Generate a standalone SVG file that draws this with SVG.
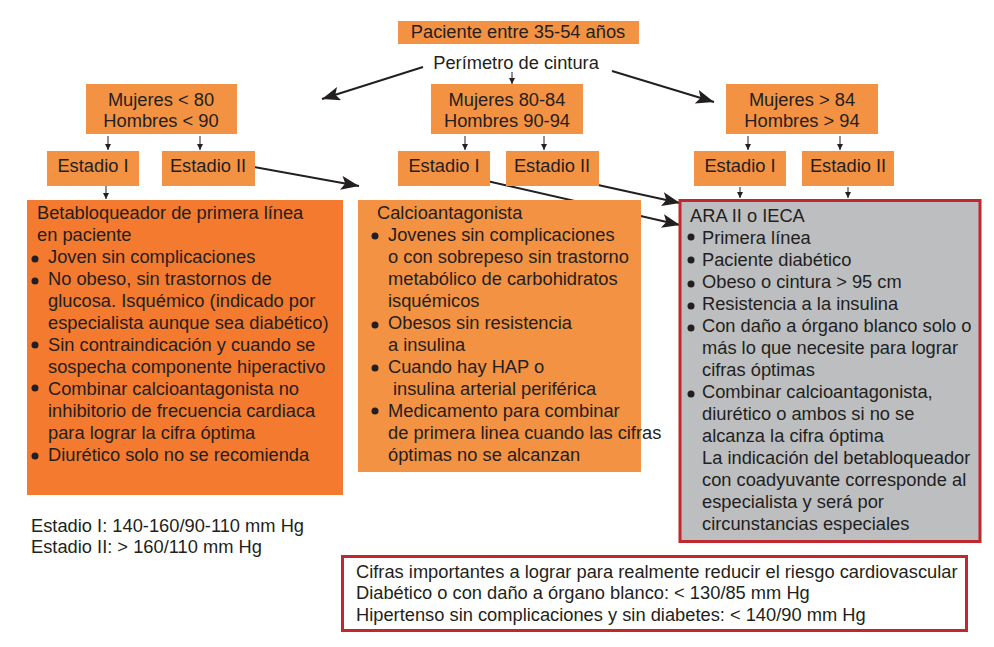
<svg xmlns="http://www.w3.org/2000/svg" width="994" height="647" viewBox="0 0 994 647">
<defs>
<style>
text{font-family:"Liberation Sans",Arial,sans-serif;font-size:18.3px;fill:#231f20}
.c{text-anchor:middle}
.box{fill:#f39242}
.big{fill:#f37a2e}
.grey{fill:#bcbec0;stroke:#c1272d;stroke-width:3}
.red{fill:#ffffff;stroke:#c1272d;stroke-width:3}
.ln{stroke:#231f20;stroke-width:2;fill:none;marker-end:url(#ah)}
.sl{stroke:#231f20;stroke-width:1;fill:none;marker-end:url(#as)}
.b{fill:#231f20}
</style>
<marker id="ah" markerUnits="userSpaceOnUse" markerWidth="20" markerHeight="16" refX="18" refY="7" orient="auto">
<path d="M0,0 L18,7 L0,14 L4,7 Z" fill="#231f20"/>
</marker>
<marker id="as" markerUnits="userSpaceOnUse" markerWidth="8" markerHeight="8" refX="6" refY="3" orient="auto">
<path d="M0,0 L6,3 L0,6 Z" fill="#231f20"/>
</marker>
</defs>
<rect width="994" height="647" fill="#ffffff"/>

<g id="connectors">
<line class="ln" x1="423" y1="67" x2="322" y2="99"/>
<line class="ln" x1="612" y1="71" x2="714" y2="102"/>
<line class="ln" x1="254" y1="167" x2="359" y2="186"/>
<line class="ln" x1="598" y1="185" x2="680" y2="203"/>
<line class="ln" x1="487" y1="181" x2="680" y2="225"/>
<line class="sl" x1="512" y1="72" x2="512" y2="84"/>
<line class="sl" x1="108" y1="136" x2="108" y2="150"/>
<line class="sl" x1="200" y1="136" x2="200" y2="150"/>
<line class="sl" x1="465" y1="136" x2="465" y2="150"/>
<line class="sl" x1="544" y1="136" x2="544" y2="150"/>
<line class="sl" x1="748" y1="136" x2="748" y2="150"/>
<line class="sl" x1="840" y1="136" x2="840" y2="150"/>
<line class="sl" x1="106" y1="186" x2="106" y2="199"/>
<line class="sl" x1="740" y1="187" x2="740" y2="198"/>
<line class="sl" x1="848" y1="187" x2="848" y2="198"/>
</g>

<g id="paciente">
<rect class="box" x="398" y="21" width="241" height="23"/>
<text class="c" x="518" y="38">Paciente entre 35-54 años</text>
</g>
<g id="perimetro">
<text class="c" x="516" y="69">Perímetro de cintura</text>
</g>

<g id="grupo-bajo">
<rect class="box" x="86" y="84" width="151" height="50"/>
<text class="c" x="161" y="106">Mujeres &lt; 80</text>
<text class="c" x="161" y="127">Hombres &lt; 90</text>
</g>
<g id="grupo-medio">
<rect class="box" x="431" y="84" width="152" height="50"/>
<text class="c" x="507" y="106">Mujeres 80-84</text>
<text class="c" x="507" y="127">Hombres 90-94</text>
</g>
<g id="grupo-alto">
<rect class="box" x="726" y="84" width="152" height="50"/>
<text class="c" x="802" y="106">Mujeres &gt; 84</text>
<text class="c" x="802" y="127">Hombres &gt; 94</text>
</g>

<g id="estadio1-bajo"><rect class="box" x="47" y="151" width="92" height="35"/><text class="c" x="93" y="172">Estadio I</text></g>
<g id="estadio2-bajo"><rect class="box" x="162" y="151" width="93" height="35"/><text class="c" x="208" y="172">Estadio II</text></g>
<g id="estadio1-medio"><rect class="box" x="398" y="151" width="92" height="35"/><text class="c" x="444" y="172">Estadio I</text></g>
<g id="estadio2-medio"><rect class="box" x="506" y="151" width="93" height="35"/><text class="c" x="552" y="172">Estadio II</text></g>
<g id="estadio1-alto"><rect class="box" x="694" y="151" width="92" height="35"/><text class="c" x="740" y="172">Estadio I</text></g>
<g id="estadio2-alto"><rect class="box" x="802" y="151" width="92" height="35"/><text class="c" x="848" y="172">Estadio II</text></g>

<g id="betabloqueador">
<rect class="big" x="27" y="200" width="316" height="295"/>
<text x="37" y="219">Betabloqueador de primera línea</text>
<text x="37" y="241">en paciente</text>
<circle class="b" cx="35" cy="259" r="3.5"/><text x="48" y="263">Joven sin complicaciones</text>
<circle class="b" cx="35" cy="281" r="3.5"/><text x="48" y="285">No obeso, sin trastornos de</text>
<text x="48" y="307">glucosa. Isquémico (indicado por</text>
<text x="48" y="329">especialista aunque sea diabético)</text>
<circle class="b" cx="35" cy="345" r="3.5"/><text x="48" y="351">Sin contraindicación y cuando se</text>
<text x="48" y="373">sospecha componente hiperactivo</text>
<circle class="b" cx="35" cy="388" r="3.5"/><text x="48" y="395">Combinar calcioantagonista no</text>
<text x="48" y="417">inhibitorio de frecuencia cardiaca</text>
<text x="48" y="439">para lograr la cifra óptima</text>
<circle class="b" cx="35" cy="456" r="3.5"/><text x="48" y="461">Diurético solo no se recomienda</text>
</g>

<g id="calcioantagonista">
<rect class="box" x="358" y="200" width="283" height="272"/>
<text x="377" y="219">Calcioantagonista</text>
<circle class="b" cx="375" cy="236" r="3.5"/><text x="388" y="241">Jovenes sin complicaciones</text>
<text x="388" y="263">o con sobrepeso sin trastorno</text>
<text x="388" y="285">metabólico de carbohidratos</text>
<text x="388" y="307">isquémicos</text>
<circle class="b" cx="375" cy="325" r="3.5"/><text x="388" y="329">Obesos sin resistencia</text>
<text x="388" y="351">a insulina</text>
<circle class="b" cx="375" cy="368" r="3.5"/><text x="388" y="373">Cuando hay HAP o</text>
<text x="393" y="395">insulina arterial periférica</text>
<circle class="b" cx="375" cy="411" r="3.5"/><text x="388" y="417">Medicamento para combinar</text>
<text x="388" y="439">de primera linea cuando las cifras</text>
<text x="388" y="461">óptimas no se alcanzan</text>
</g>

<g id="ara-ieca">
<rect class="grey" x="680" y="200.5" width="300" height="341"/>
<text x="690" y="222">ARA II o IECA</text>
<circle class="b" cx="691" cy="237" r="3.5"/><text x="702" y="244">Primera línea</text>
<circle class="b" cx="691" cy="260" r="3.5"/><text x="702" y="266">Paciente diabético</text>
<circle class="b" cx="691" cy="284" r="3.5"/><text x="702" y="288">Obeso o cintura &gt; 95 cm</text>
<circle class="b" cx="691" cy="306" r="3.5"/><text x="702" y="310">Resistencia a la insulina</text>
<circle class="b" cx="691" cy="328" r="3.5"/><text x="702" y="332">Con daño a órgano blanco solo o</text>
<text x="702" y="354">más lo que necesite para lograr</text>
<text x="702" y="376">cifras óptimas</text>
<circle class="b" cx="691" cy="394" r="3.5"/><text x="702" y="398">Combinar calcioantagonista,</text>
<text x="702" y="420">diurético o ambos si no se</text>
<text x="702" y="442">alcanza la cifra óptima</text>
<text x="702" y="464">La indicación del betabloqueador</text>
<text x="702" y="486">con coadyuvante corresponde al</text>
<text x="702" y="508">especialista y será por</text>
<text x="702" y="530">circunstancias especiales</text>
</g>

<g id="leyenda-estadios">
<text x="31" y="532">Estadio I: 140-160/90-110 mm Hg</text>
<text x="31" y="553">Estadio II: &gt; 160/110 mm Hg</text>
</g>

<g id="cifras">
<rect class="red" x="342.5" y="556.5" width="624" height="74"/>
<text x="356" y="578">Cifras importantes a lograr para realmente reducir el riesgo cardiovascular</text>
<text x="356" y="599">Diabético o con daño a órgano blanco: &lt; 130/85 mm Hg</text>
<text x="356" y="621">Hipertenso sin complicaciones y sin diabetes: &lt; 140/90 mm Hg</text>
</g>
</svg>
